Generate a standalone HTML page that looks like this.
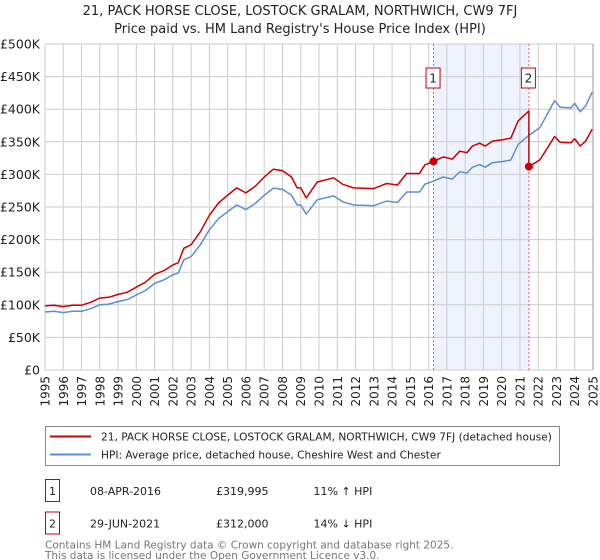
<!DOCTYPE html>
<html><head><meta charset="utf-8"><style>
body{margin:0;background:#fff;font-family:"DejaVu Sans","Liberation Sans",sans-serif;}
#wrap{position:relative;width:600px;height:560px;overflow:hidden}
svg{position:absolute;left:0;top:0}
</style></head><body>
<div id="wrap">
<svg id="chart" width="600" height="560" xmlns="http://www.w3.org/2000/svg" font-family="DejaVu Sans, Liberation Sans, sans-serif"></svg>
</div>
<script>
// HPI (thousands of £)
const hpiYears=[1995.0,1995.5,1996.0,1996.5,1997.0,1997.5,1998.0,1998.5,1999.0,1999.5,2000.0,2000.5,2001.0,2001.5,2002.0,2002.3,2002.6,2003.0,2003.5,2004.0,2004.5,2005.0,2005.5,2006.0,2006.5,2007.0,2007.5,2008.0,2008.5,2008.8,2009.0,2009.3,2009.9,2010.8,2011.3,2011.9,2013.0,2013.7,2014.3,2014.8,2015.5,2015.8,2016.2,2016.8,2017.3,2017.7,2018.1,2018.4,2018.8,2019.1,2019.5,2020.1,2020.5,2020.9,2021.45,2022.1,2022.9,2023.2,2023.8,2024.0,2024.3,2024.6,2024.95];
const hpiValues=[89,90,88,90,90,94,100,101,105,108,115,122,133,138,146,149,169,174,192,215,232,243,253,246,255,268,279,277,268,253,253,239,261,267,258,253,252,259,257,273,273,285,289,296,293,304,302,311,315,311,318,320,322,346,359,372,413,403,402,409,396,405,426];
const saleDates=[2016.27,2021.49];
const salePrices=[319.995,312.0];
const saleLabels=["1","2"];
const yTicks=[0,50,100,150,200,250,300,350,400,450,500];
const yTickLabels=["£0","£50K","£100K","£150K","£200K","£250K","£300K","£350K","£400K","£450K","£500K"];
const xYears=[];for(let y=1995;y<=2025;y++)xYears.push(y);

const svg=document.getElementById('chart');
const NS="http://www.w3.org/2000/svg";
const X0=45,X1=593,Y0=370,Y1=44;
const xs=t=>X0+(t-1995)/30*(X1-X0);
const ys=v=>Y0-v/500*(Y0-Y1);
function mk(tag,attrs,parent){const e=document.createElementNS(NS,tag);for(const k in attrs)e.setAttribute(k,attrs[k]);(parent||svg).appendChild(e);return e;}
function hpiAt(t){for(let i=0;i<hpiYears.length-1;i++){if(t>=hpiYears[i]&&t<=hpiYears[i+1]){const f=(t-hpiYears[i])/(hpiYears[i+1]-hpiYears[i]);return hpiValues[i]+f*(hpiValues[i+1]-hpiValues[i]);}}return hpiValues[hpiValues.length-1];}

// titles
let t=mk('text',{x:300,y:15,'text-anchor':'middle','font-size':13,fill:'#222'});t.textContent="21, PACK HORSE CLOSE, LOSTOCK GRALAM, NORTHWICH, CW9 7FJ";


t=mk('text',{x:300,y:33,'text-anchor':'middle','font-size':13,fill:'#222'});t.textContent="Price paid vs. HM Land Registry's House Price Index (HPI)";



// shading
let sh=mk('rect',{x:xs(saleDates[0]),y:Y1,width:xs(saleDates[1])-xs(saleDates[0]),height:Y0-Y1,fill:'#eef3fd'});



// grid
yTicks.forEach((v,i)=>{
  const l=mk('line',{x1:X0,x2:X1,y1:ys(v),y2:ys(v),stroke:'#cccccc','stroke-width':1});
  
  
  const tx=mk('text',{x:40,y:ys(v)+4.5,'text-anchor':'end','font-size':12.5,fill:'#222'});tx.textContent=yTickLabels[i];
  
  
});
xYears.forEach(yr=>{
  const x=xs(yr);
  const l=mk('line',{x1:x,x2:x,y1:Y1,y2:Y0,stroke:'#cccccc','stroke-width':1});
  
  
  const tx=mk('text',{x:0,y:0,'text-anchor':'end','font-size':12,fill:'#222',transform:`translate(${x+4.5},376) rotate(-90)`});tx.textContent=yr;
  
  
});
let ax=mk('line',{x1:X1,x2:X1,y1:Y1,y2:Y0,stroke:'#999','stroke-width':1});



// sale markers lines
saleDates.forEach((d,i)=>{
  const x=xs(d);
  const l=mk('line',{x1:x,x2:x,y1:Y1,y2:Y0,stroke:'#f06060','stroke-width':1,'stroke-dasharray':'2,2'});
  
  
});

// HPI line
let d='';hpiYears.forEach((yr,i)=>{d+=(i?'L':'M')+xs(yr).toFixed(1)+','+ys(hpiValues[i]).toFixed(1);});
let hp=mk('path',{d:d,fill:'none',stroke:'#5b8fd4','stroke-width':1.5,'stroke-linejoin':'round'});



// price paid (indexed) line
const h1=hpiAt(saleDates[0]),h2=hpiAt(saleDates[1]);
const pts=[];
hpiYears.forEach((yr,i)=>{if(yr<saleDates[0])pts.push([yr,hpiValues[i]*salePrices[0]/h1]);});
pts.push([saleDates[0],salePrices[0]]);
hpiYears.forEach((yr,i)=>{if(yr>saleDates[0]&&yr<saleDates[1])pts.push([yr,hpiValues[i]*salePrices[0]/h1]);});
pts.push([saleDates[1],h2*salePrices[0]/h1]);
pts.push([saleDates[1],salePrices[1]]);
hpiYears.forEach((yr,i)=>{if(yr>saleDates[1])pts.push([yr,hpiValues[i]*salePrices[1]/h2]);});
d='';pts.forEach((p,i)=>{d+=(i?'L':'M')+xs(p[0]).toFixed(1)+','+ys(p[1]).toFixed(1);});
let pp=mk('path',{d:d,fill:'none',stroke:'#cc0000','stroke-width':1.5,'stroke-linejoin':'round'});



saleDates.forEach((dd,i)=>{
  const c=mk('circle',{cx:xs(dd),cy:ys(salePrices[i]),r:4,fill:'#cc0000'});
  
  
  const g=mk('g',{});
  
  
  mk('rect',{x:xs(dd)-7.5,y:68,width:14,height:20,fill:'#fff',stroke:'#cc0000','stroke-width':1},g);
  const tx=mk('text',{x:xs(dd)-0.5,y:82.5,'text-anchor':'middle','font-size':12,fill:'#222'},g);tx.textContent=saleLabels[i];
});

// legend
const lg=mk('g',{});


mk('rect',{x:45.5,y:426.5,width:514,height:39,fill:'#fff',stroke:'#888','stroke-width':1},lg);
mk('line',{x1:50,x2:91,y1:436.5,y2:436.5,stroke:'#cc0000','stroke-width':2},lg);
mk('line',{x1:50,x2:91,y1:454.5,y2:454.5,stroke:'#5b8fd4','stroke-width':2},lg);
t=mk('text',{x:101,y:440.5,'font-size':10.6,fill:'#222'},lg);t.textContent="21, PACK HORSE CLOSE, LOSTOCK GRALAM, NORTHWICH, CW9 7FJ (detached house)";


t=mk('text',{x:101,y:458.5,'font-size':10.6,fill:'#222'},lg);t.textContent="HPI: Average price, detached house, Cheshire West and Chester";



// table
const rows=[["1","08-APR-2016","£319,995","11% ↑ HPI"],["2","29-JUN-2021","£312,000","14% ↓ HPI"]];
rows.forEach((r,i)=>{
  const y=480+i*32.5;
  const g=mk('g',{});
  
  
  mk('rect',{x:45.5,y:y-0.5,width:14,height:22,fill:'#fff',stroke:'#cc0000','stroke-width':1},g);
  let a=mk('text',{x:52.5,y:y+15,'text-anchor':'middle','font-size':11,fill:'#222'},g);a.textContent=r[0];
  a=mk('text',{x:90,y:y+15,'font-size':11,fill:'#222'},g);a.textContent=r[1];
  a=mk('text',{x:216,y:y+15,'font-size':11,fill:'#222'},g);a.textContent=r[2];
  a=mk('text',{x:313.5,y:y+15,'font-size':11,fill:'#222'},g);a.textContent=r[3];
});
t=mk('text',{x:45,y:548.5,'font-size':10.5,fill:'#777'});t.textContent="Contains HM Land Registry data © Crown copyright and database right 2025.";


t=mk('text',{x:45,y:559,'font-size':10.5,fill:'#777'});t.textContent="This data is licensed under the Open Government Licence v3.0.";


</script>
</body></html>
